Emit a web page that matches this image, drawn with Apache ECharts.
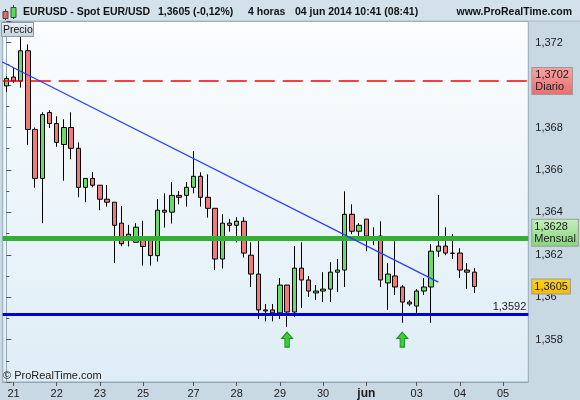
<!DOCTYPE html>
<html><head><meta charset="utf-8">
<script src="https://cdn.jsdelivr.net/npm/echarts@6/dist/echarts.min.js"></script>
<style>html,body{margin:0;padding:0;background:#c9d9e4;}#c{width:580px;height:400px;}</style>
</head><body><div id="c"></div>
<script>
// ---- data ----
const slotCount = 73;
const dayLabels = ['21','22','23','25','27','28','29','30','jun','03','04','05'];
const dayLabelIdx = [1,7,13,19,26,32,38,44,50,57,63,69];
const opens = [1.36996,1.37038,1.37019,1.37162,1.36791,1.36560,1.36871,1.36819,1.36720,1.36800,
1.36702,1.36518,1.36560,1.36528,1.36462,1.36448,1.36349,1.36297,1.36259,1.36286,
1.36280,1.36196,1.36410,1.36401,1.36480,1.36480,1.36518,1.36570,1.36471,1.36419,
1.36180,1.36349,1.36339,1.36358,1.36198,1.36109,1.35940,1.35940,1.35926,1.36057,
1.35930,1.36137,1.36081,1.36020,1.36029,1.36038,1.36118,1.36128,1.36391,1.36311,
1.36368,1.36283,1.36288,1.36067,1.36100,1.36048,1.35977,1.35958,1.36029,1.36048,
1.36217,1.36241,1.36208,1.36208,1.36128,1.36118];
const closes = [1.37031,1.37019,1.37162,1.36791,1.36560,1.36861,1.36819,1.36730,1.36800,1.36702,
1.36518,1.36560,1.36528,1.36462,1.36448,1.36339,1.36252,1.36286,1.36330,1.36239,
1.36196,1.36410,1.36401,1.36480,1.36471,1.36518,1.36570,1.36471,1.36419,1.36180,
1.36349,1.36339,1.36358,1.36208,1.36109,1.35940,1.35935,1.35926,1.36057,1.35930,
1.36137,1.36081,1.36029,1.36029,1.36038,1.36118,1.36128,1.36391,1.36311,1.36339,
1.36288,1.36280,1.36081,1.36109,1.36048,1.35977,1.35968,1.36029,1.36048,1.36217,
1.36241,1.36208,1.36206,1.36128,1.36118,1.36050];
const lows = [1.36968,1.37010,1.36988,1.36717,1.36516,1.36349,1.36798,1.36709,1.36549,1.36650,
1.36471,1.36448,1.36518,1.36410,1.36427,1.36161,1.36240,1.36239,1.36259,1.36149,
1.36149,1.36168,1.36328,1.36347,1.36438,1.36427,1.36490,1.36427,1.36375,1.36128,
1.36135,1.36309,1.36258,1.36187,1.36048,1.35897,1.35886,1.35886,1.35897,1.35860,
1.35907,1.35949,1.36001,1.35987,1.35977,1.35977,1.36024,1.36048,1.36297,1.36274,
1.36217,1.36245,1.36048,1.35940,1.36010,1.35879,1.35958,1.35926,1.36010,1.35879,
1.36189,1.36198,1.36180,1.36090,1.36038,1.36020];
const highs = [1.37042,1.37081,1.37230,1.37192,1.36800,1.36872,1.36882,1.36853,1.36839,1.36872,
1.36730,1.36560,1.36590,1.36528,1.36529,1.36448,1.36430,1.36341,1.36349,1.36360,
1.36280,1.36463,1.36490,1.36543,1.36501,1.36543,1.36689,1.36589,1.36579,1.36419,
1.36391,1.36369,1.36377,1.36377,1.36259,1.36266,1.35968,1.35968,1.36090,1.36057,
1.36241,1.36259,1.36100,1.36057,1.36118,1.36165,1.36180,1.36499,1.36438,1.36349,
1.36368,1.36330,1.36358,1.36161,1.36264,1.36057,1.35987,1.36038,1.36090,1.36250,
1.36482,1.36330,1.36297,1.36231,1.36161,1.36137];
const dailyLevel = 1.3702;
const monthlyLevel = 1.3628;
const supportLevel = 1.3592;
const lastPrice = 1.3605;
const trendX = [-0.875, 60];
const trendY = [1.37114, 1.36071];
const arrowIdx = [39, 55];
const arrowLevel = [1.3580, 1.3580];

// ---- build ----
const categories = [];
for (let i = 0; i < slotCount; i++) categories.push(String(i));
const candleData = opens.map((o, i) => [o, closes[i], lows[i], highs[i]]);
const fmt4 = v => v.toFixed(4).replace('.', ',');
const FONT = 'Liberation Sans, Arial, sans-serif';
const boxLabel = (text, c1, c2, extra) => Object.assign({
  show: true, position: 'end', distance: 4, formatter: text,
  color: '#1a1a1a', fontSize: 11, lineHeight: 12, fontFamily: FONT,
  padding: [1, 3, 1, 3], align: 'left',
  backgroundColor: {type:'linear', x:0, y:0, x2:0, y2:1, colorStops:[{offset:0,color:c1},{offset:1,color:c2}]},
  borderColor: '#9a9a9a', borderWidth: 1
}, extra || {});
const showDay = (index) => dayLabelIdx.indexOf(index) >= 0;
const HFONT = 'bold 10.5px Liberation Sans, Arial, sans-serif';

const chart = echarts.init(document.getElementById('c'));
chart.setOption({
  animation: false,
  backgroundColor: '#c9d9e4',
  grid: {
    left: 2.7, top: 21.5, width: 525.6, height: 361.1, show: true,
    backgroundColor: {type:'linear', x:0, y:0, x2:0, y2:1, colorStops:[{offset:0,color:'#fbfdfe'},{offset:1,color:'#deedf6'}]},
    borderColor: '#95a8b6', borderWidth: 1
  },
  xAxis: [{
    type: 'category', data: categories, boundaryGap: true,
    axisLine: {show: true, lineStyle: {color: '#95a8b6'}},
    axisTick: {show: true, alignWithLabel: true, interval: (i) => showDay(i), length: 4, lineStyle: {color: '#555'}},
    axisLabel: {
      interval: (i) => showDay(i), margin: 6, color: '#1a1a1a', fontSize: 11, fontFamily: FONT,
      formatter: (v, i) => { const k = dayLabelIdx.indexOf(Number(v)); const t = k >= 0 ? dayLabels[k] : ''; return t === 'jun' ? '{b|jun}' : t; },
      rich: {b: {fontWeight: 'bold', fontSize: 12, fontFamily: FONT, color: '#1a1a1a'}}
    },
    splitLine: {show: false}
  }, {
    type: 'value', min: -0.5, max: slotCount - 0.5, show: false
  }],
  yAxis: {
    type: 'value', position: 'right', min: 1.356, max: 1.373, interval: 0.002,
    axisLine: {show: true, lineStyle: {color: '#95a8b6'}},
    axisTick: {show: true, length: 5, lineStyle: {color: '#556'}},
    minorTick: {show: true, splitNumber: 2, length: 3, lineStyle: {color: '#556'}},
    splitLine: {show: false},
    axisLabel: {
      margin: 7, color: '#1a1a1a', fontSize: 11, fontFamily: FONT,
      formatter: (v) => { const m = Math.round(v * 1000); if (m % 2 !== 0 || m <= 1356) return ''; return (m / 1000).toFixed(3).replace(/0+$/, '').replace('.', ','); }
    }
  },
  series: [{
    type: 'candlestick', xAxisIndex: 0, data: candleData, barWidth: 5,
    itemStyle: {color: '#66dd66', color0: '#f07a7a', borderColor: '#000', borderColor0: '#000', borderWidth: 1},
    markLine: {
      silent: true, symbol: ['none', 'none'], animation: false, precision: 5,
      data: [
        {yAxis: dailyLevel, lineStyle: {color: '#ff0000', width: 1.5, type: [20, 8]},
          label: boxLabel(fmt4(dailyLevel) + '\nDiario', '#f7a3a3', '#ea6e6e')},
        {yAxis: monthlyLevel, lineStyle: {color: '#33b033', width: 5, type: 'solid'},
          label: boxLabel(fmt4(monthlyLevel) + '\nMensual', '#c4f0bc', '#86d47e', {padding: [1, 2, 1, 2], offset: [0, -5]})},
        {yAxis: supportLevel, lineStyle: {color: '#0000dd', width: 3, type: 'solid'},
          label: {show: true, position: 'insideEndTop', formatter: fmt4(supportLevel), color: '#1a1a1a', fontSize: 11, fontFamily: FONT, distance: 2}},
        {yAxis: lastPrice, lineStyle: {color: 'rgba(0,0,0,0)', width: 0},
          label: boxLabel(fmt4(lastPrice), '#ffd21a', '#f5bb00', {padding: [1, 2, 1, 2]})}
      ]
    },
    markPoint: {
      silent: true, animation: false,
      symbol: 'path://M5,0 L10,6 L7,6 L7,14 L3,14 L3,6 L0,6 Z', symbolSize: [11, 15],
      itemStyle: {color: '#3ccc3c', borderColor: '#1a8f1a', borderWidth: 1},
      label: {show: false},
      data: arrowIdx.map((x, i) => ({coord: [x, arrowLevel[i]]}))
    }
  }, {
    type: 'line', xAxisIndex: 1, data: trendX.map((x, i) => [x, trendY[i]]),
    symbol: 'none', lineStyle: {color: '#2a3cff', width: 1.2}, z: 5, silent: true
  }],
  graphic: [
    {type: 'rect', shape: {x: 0, y: 0, width: 580, height: 21}, style: {fill: '#d3e1ea'}, z: 0},
    {type: 'line', shape: {x1: 0, y1: 21, x2: 580, y2: 21}, style: {stroke: '#a9bac6', lineWidth: 1}},
    {type: 'line', shape: {x1: 5.5, y1: 9, x2: 5.5, y2: 20}, style: {stroke: '#444', lineWidth: 1}},
    {type: 'rect', shape: {x: 3, y: 11.5, width: 5, height: 7}, style: {fill: '#ee6666', stroke: '#444', lineWidth: 1}},
    {type: 'line', shape: {x1: 13.5, y1: 5, x2: 13.5, y2: 19}, style: {stroke: '#444', lineWidth: 1}},
    {type: 'rect', shape: {x: 11, y: 7.5, width: 5, height: 10}, style: {fill: '#55dd55', stroke: '#444', lineWidth: 1}},
    {type: 'text', left: 23, top: 7, style: {text: 'EURUSD - Spot EUR/USD', font: HFONT, fill: '#111'}},
    {type: 'text', left: 158, top: 7, style: {text: '1,3605 (-0,12%)', font: HFONT, fill: '#111'}},
    {type: 'text', left: 248, top: 7, style: {text: '4 horas', font: HFONT, fill: '#111'}},
    {type: 'text', left: 295, top: 7, style: {text: '04 jun 2014 10:41 (08:41)', font: HFONT, fill: '#111'}},
    {type: 'text', right: 8, top: 7, style: {text: 'www.ProRealTime.com', font: HFONT, fill: '#111'}},
    {type: 'rect', shape: {x: 1.5, y: 22.5, width: 32, height: 14}, z: 10,
      style: {fill: {type:'linear', x:0, y:0, x2:0, y2:1, colorStops:[{offset:0,color:'#eef3f7'},{offset:1,color:'#c3d1dc'}]}, stroke: '#8a9baa', lineWidth: 1}},
    {type: 'text', left: 3, top: 24.5, z: 11, style: {text: 'Precio', font: '10.5px Liberation Sans, Arial, sans-serif', fill: '#111'}},
    {type: 'text', left: 3, top: 370, z: 11, style: {text: '\u00a9 ProRealTime.com', font: '11px Liberation Sans, Arial, sans-serif', fill: '#222'}}
  ]
});
</script></body></html>
